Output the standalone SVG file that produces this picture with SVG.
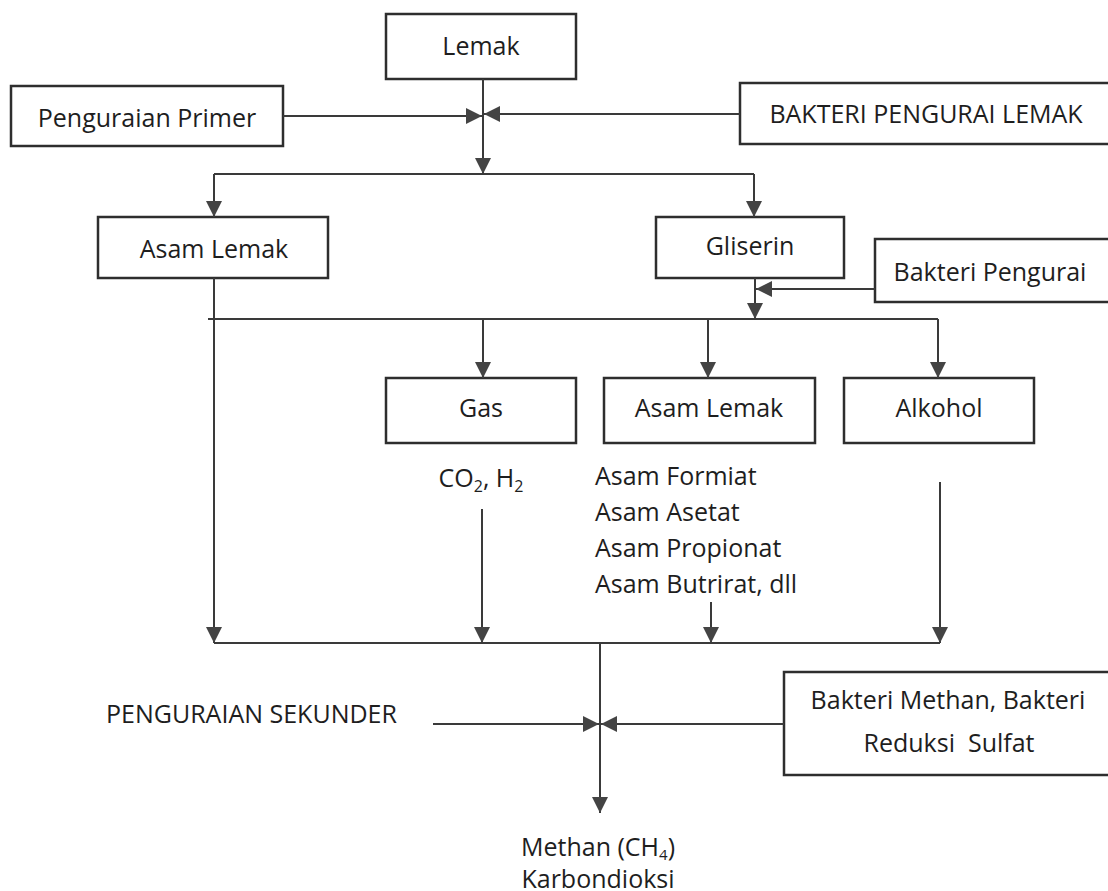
<svg xmlns="http://www.w3.org/2000/svg" width="1108" height="891" viewBox="0 0 1108 891">
<style>
.box{fill:#fff;stroke:#2e2e2e;stroke-width:2.5}
.t{font-family:"Open Sans","Noto Sans","Liberation Sans",sans-serif;font-size:25px;fill:#1e1e1e}
.c{text-anchor:middle}
.ln{fill:none;stroke:#3a3a3a;stroke-width:2}
</style>
<defs>
<marker id="ah" markerUnits="userSpaceOnUse" markerWidth="16" markerHeight="16" refX="15" refY="7.5" orient="auto" viewBox="0 0 15 15">
<path d="M0,0 L15,7.5 L0,15 z" fill="#444"/>
</marker>
</defs>
<rect width="1108" height="891" fill="#fff"/>
<g id="lemak"><rect class="box" x="386" y="14" width="190" height="65"/><text class="t c" x="481" y="55">Lemak</text></g>
<g id="primer"><rect class="box" x="11" y="86" width="272" height="60"/><text class="t c" x="147" y="127">Penguraian Primer</text></g>
<g id="bakteri-lemak"><rect class="box" x="740" y="83" width="380" height="61"/><text class="t c" x="926" y="123">BAKTERI PENGURAI LEMAK</text></g>
<g id="asam-lemak-1"><rect class="box" x="98" y="217" width="230" height="61"/><text class="t c" x="214" y="258">Asam Lemak</text></g>
<g id="gliserin"><rect class="box" x="656" y="217" width="188" height="61"/><text class="t c" x="750" y="255">Gliserin</text></g>
<g id="bakteri-pengurai"><rect class="box" x="875" y="239" width="245" height="63"/><text class="t c" x="990" y="281">Bakteri Pengurai</text></g>
<g id="gas"><rect class="box" x="386" y="378" width="190" height="65"/><text class="t c" x="481" y="417">Gas</text></g>
<g id="asam-lemak-2"><rect class="box" x="604" y="378" width="211" height="65"/><text class="t c" x="709" y="417">Asam Lemak</text></g>
<g id="alkohol"><rect class="box" x="844" y="378" width="190" height="65"/><text class="t c" x="939" y="417">Alkohol</text></g>
<g id="co2"><text class="t c" x="481" y="487">CO<tspan font-size="16" dy="5">2</tspan><tspan dy="-5">, H</tspan><tspan font-size="16" dy="5">2</tspan></text></g>
<g id="asam-list"><text class="t" x="595" y="485">Asam Formiat</text><text class="t" x="595" y="521">Asam Asetat</text><text class="t" x="595" y="557">Asam Propionat</text><text class="t" x="595" y="593">Asam Butrirat, dll</text></g>
<g id="sekunder"><text class="t" x="106" y="723">PENGURAIAN SEKUNDER</text></g>
<g id="bakteri-methan"><rect class="box" x="784" y="672" width="340" height="103"/><text class="t c" x="948" y="709">Bakteri Methan, Bakteri</text><text class="t c" x="949" y="752" xml:space="preserve">Reduksi  Sulfat</text></g>
<g id="methan"><text class="t c" x="598" y="856">Methan (CH<tspan font-size="15" dy="4">4</tspan><tspan dy="-4">)</tspan></text><text class="t c" x="598" y="888" font-size="24">Karbondioksi</text></g>
<g id="connectors">
<line class="ln" x1="483" y1="79" x2="483" y2="174" marker-end="url(#ah)"/>
<line class="ln" x1="283" y1="116" x2="482" y2="116" marker-end="url(#ah)"/>
<line class="ln" x1="740" y1="114" x2="484" y2="114" marker-end="url(#ah)"/>
<line class="ln" x1="214" y1="174" x2="754" y2="174"/>
<line class="ln" x1="214" y1="174" x2="214" y2="217" marker-end="url(#ah)"/>
<line class="ln" x1="754" y1="174" x2="754" y2="217" marker-end="url(#ah)"/>
<line class="ln" x1="214" y1="278" x2="214" y2="643" marker-end="url(#ah)"/>
<line class="ln" x1="755" y1="278" x2="755" y2="319" marker-end="url(#ah)"/>
<line class="ln" x1="875" y1="289" x2="756" y2="289" marker-end="url(#ah)"/>
<line class="ln" x1="208" y1="319" x2="938" y2="319"/>
<line class="ln" x1="483" y1="319" x2="483" y2="378" marker-end="url(#ah)"/>
<line class="ln" x1="708" y1="319" x2="708" y2="378" marker-end="url(#ah)"/>
<line class="ln" x1="938" y1="319" x2="938" y2="378" marker-end="url(#ah)"/>
<line class="ln" x1="482" y1="509" x2="482" y2="643" marker-end="url(#ah)"/>
<line class="ln" x1="711" y1="602" x2="711" y2="643" marker-end="url(#ah)"/>
<line class="ln" x1="940" y1="482" x2="940" y2="643" marker-end="url(#ah)"/>
<line class="ln" x1="214" y1="643" x2="940" y2="643"/>
<line class="ln" x1="600" y1="643" x2="600" y2="813" marker-end="url(#ah)"/>
<line class="ln" x1="433" y1="724" x2="599" y2="724" marker-end="url(#ah)"/>
<line class="ln" x1="784" y1="724" x2="601" y2="724" marker-end="url(#ah)"/>
</g>
</svg>
